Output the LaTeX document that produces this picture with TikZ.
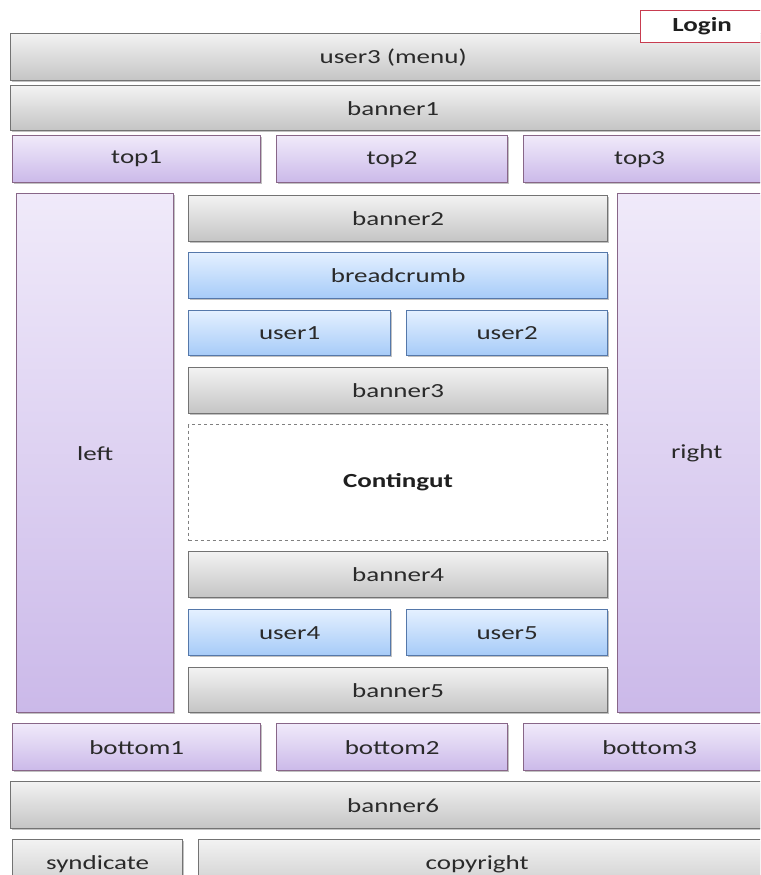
\documentclass[tikz,border=0pt]{standalone}
\usepackage{fontspec}
\setmainfont{Carlito}[FakeStretch=1.35]
\usetikzlibrary{shadows}
\definecolor{txt}{HTML}{2A2A2A}
\tikzset{
  base/.style={anchor=north west, inner sep=0pt, text=txt, line width=1.3pt,
    font=\fontsize{20}{20}\selectfont,
    drop shadow={shadow xshift=1.3pt, shadow yshift=-1.8pt, opacity=0.4, fill=black!60}},
  graybox/.style={base, draw=black!55, top color=black!5, bottom color=black!23},
  purplebox/.style={base, draw=violet!45!black!60, top color={rgb,255:red,240;green,234;blue,250}, bottom color={rgb,255:red,203;green,185;blue,233}},
  bluebox/.style={base, draw={rgb,255:red,85;green,120;blue,170}, top color={rgb,255:red,228;green,240;blue,255}, bottom color={rgb,255:red,166;green,203;blue,248}},
  dashbox/.style={anchor=north west, inner sep=0pt, draw=black!50, dashed, line width=1.1pt, fill=white, font=\fontsize{20}{20}\selectfont\bfseries, text=black!88},
  loginbox/.style={anchor=north west, inner sep=0pt, draw={rgb,255:red,200;green,60;blue,80}, line width=1.3pt, fill=white, font=\fontsize{20}{20}\selectfont\bfseries, text=black!88}
}
\newcommand{\bx}[7]{\node[#1, minimum width={(#5)-(#3)}, minimum height={(#6)-(#4)}] (#2) at (#3,#4) {#7};}
\begin{document}
\begin{tikzpicture}[x=1pt,y=-1pt]
\clip (0,0) rectangle (760,875);
\fill[white] (0,0) rectangle (760,875);
\bx{graybox}{user3}{10}{33}{775}{80}{user3 (menu)}
\bx{loginbox}{login}{640}{10}{775}{42}{\hspace*{-12pt}Login}
\bx{graybox}{banner1}{10}{85}{775}{130}{banner1}
\bx{purplebox}{top1}{12}{135}{260}{182}{top1}
\bx{purplebox}{top2}{276}{135}{507}{182}{top2}
\bx{purplebox}{top3}{523}{135}{775}{182}{\hspace*{-20pt}top3}
\bx{purplebox}{left}{16}{193}{173}{712}{left}
\bx{purplebox}{right}{617}{193}{775}{712}{right}
\bx{graybox}{banner2}{188}{195}{607}{241}{banner2}
\bx{bluebox}{breadcrumb}{188}{252}{607}{298}{breadcrumb}
\bx{bluebox}{user1}{188}{310}{390}{355}{user1}
\bx{bluebox}{user2}{406}{310}{607}{355}{user2}
\bx{graybox}{banner3}{188}{367}{607}{413}{banner3}
\bx{dashbox}{contingut}{188}{424}{607}{540}{Contingut}
\bx{graybox}{banner4}{188}{551}{607}{597}{banner4}
\bx{bluebox}{user4}{188}{609}{390}{655}{user4}
\bx{bluebox}{user5}{406}{609}{607}{655}{user5}
\bx{graybox}{banner5}{188}{667}{607}{712}{banner5}
\bx{purplebox}{bottom1}{12}{723}{260}{770}{bottom1}
\bx{purplebox}{bottom2}{276}{723}{507}{770}{bottom2}
\bx{purplebox}{bottom3}{523}{723}{775}{770}{bottom3}
\bx{graybox}{banner6}{10}{781}{775}{828}{banner6}
\bx{graybox}{syndicate}{12}{839}{182}{900}{\raisebox{-16pt}{}syndicate}
\bx{graybox}{copyright}{198}{839}{775}{900}{\raisebox{-16pt}{}\hspace*{-20pt}copyright}
\end{tikzpicture}
\end{document}
